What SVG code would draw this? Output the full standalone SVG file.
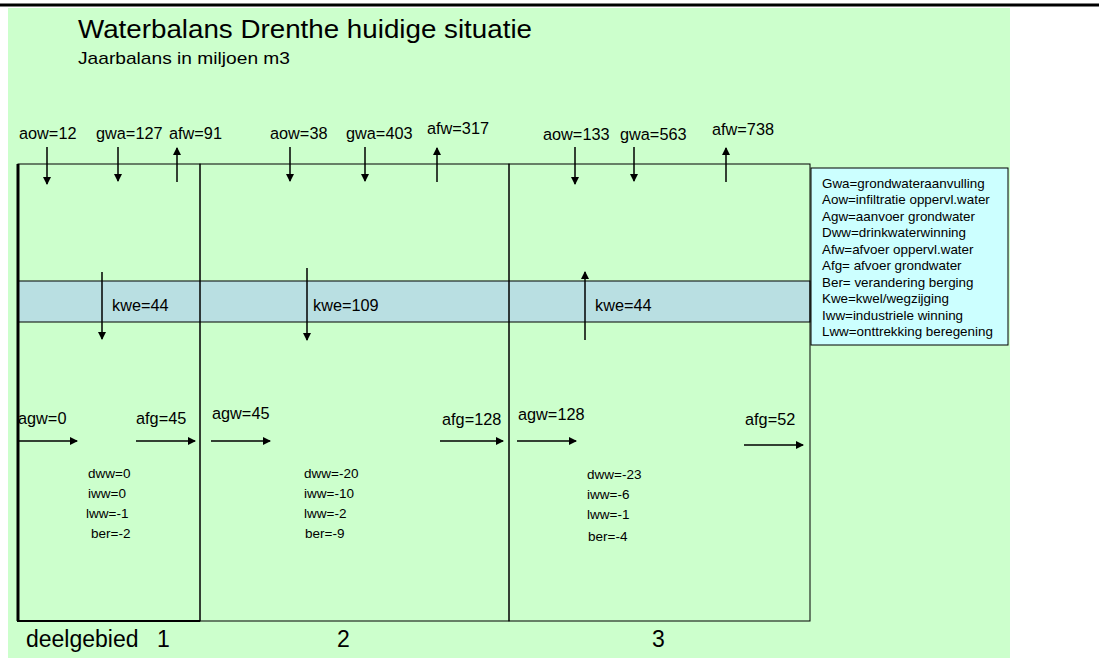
<svg xmlns="http://www.w3.org/2000/svg" width="1099" height="658" viewBox="0 0 1099 658">
<defs>
<marker id="ah" markerWidth="8" markerHeight="8" refX="7" refY="4" orient="auto" markerUnits="userSpaceOnUse"><path d="M0,0 L8,4 L0,8 z" fill="#000"/></marker>
<style>
text{font-family:"Liberation Sans",Arial,sans-serif;fill:#000}
.l{font-size:16.3px}
.m{font-size:13.5px}
.s{font-size:13.4px}
.d{font-size:23px}
.c line{stroke:#000;stroke-width:1.5;marker-end:url(#ah)}
.b{fill:none;stroke:#000;stroke-width:1}
</style>
</defs>
<rect x="0" y="0" width="1099" height="658" fill="#fff"/>
<rect x="8" y="8" width="1002" height="650" fill="#CCFFCC"/>
<line x1="0" y1="5" x2="1099" y2="5" stroke="#000" stroke-width="3"/>
<g id="title">
<text x="78" y="38" style="font-size:26px" textLength="454" lengthAdjust="spacingAndGlyphs">Waterbalans Drenthe huidige situatie</text>
<text x="78" y="64" style="font-size:17px" textLength="212" lengthAdjust="spacingAndGlyphs">Jaarbalans in miljoen m3</text>
</g>
<rect id="kwel-band" x="18" y="281" width="792" height="41" fill="#B9DFE2" stroke="#000" stroke-width="1"/>
<g id="deelgebied1">
<rect class="b" x="18" y="164" width="182" height="457"/>
<line x1="18" y1="164" x2="18" y2="621" stroke="#000" stroke-width="3"/>
<line x1="17" y1="621" x2="200" y2="621" stroke="#000" stroke-width="2"/>
<text class="m" x="88" y="478">dww=0</text>
<text class="m" x="88" y="498">iww=0</text>
<text class="m" x="86" y="518">lww=-1</text>
<text class="m" x="91" y="538">ber=-2</text>
</g>
<g id="deelgebied2">
<rect class="b" x="200" y="164" width="309" height="457"/>
<text class="m" x="304" y="478">dww=-20</text>
<text class="m" x="304" y="498">iww=-10</text>
<text class="m" x="304" y="518">lww=-2</text>
<text class="m" x="305" y="538">ber=-9</text>
</g>
<g id="deelgebied3">
<rect class="b" x="509" y="164" width="301" height="457"/>
<text class="m" x="587" y="479">dww=-23</text>
<text class="m" x="587" y="499">iww=-6</text>
<text class="m" x="587" y="519">lww=-1</text>
<text class="m" x="588" y="541">ber=-4</text>
</g>
<g id="legend">
<rect x="811" y="168" width="197" height="177" fill="#CCFFFF" stroke="#000" stroke-width="1"/>
<text class="s" x="822" y="188">Gwa=grondwateraanvulling</text>
<text class="s" x="822" y="204">Aow=infiltratie oppervl.water</text>
<text class="s" x="822" y="221">Agw=aanvoer grondwater</text>
<text class="s" x="822" y="237">Dww=drinkwaterwinning</text>
<text class="s" x="822" y="254">Afw=afvoer oppervl.water</text>
<text class="s" x="822" y="270">Afg= afvoer grondwater</text>
<text class="s" x="822" y="287">Ber= verandering berging</text>
<text class="s" x="822" y="303">Kwe=kwel/wegzijging</text>
<text class="s" x="822" y="320">Iww=industriele winning</text>
<text class="s" x="822" y="336">Lww=onttrekking beregening</text>
</g>
<g id="labels">
<text class="l" x="19" y="139">aow=12</text>
<text class="l" x="96" y="139">gwa=127</text>
<text class="l" x="169" y="139">afw=91</text>
<text class="l" x="270" y="139">aow=38</text>
<text class="l" x="346" y="139">gwa=403</text>
<text class="l" x="427" y="134">afw=317</text>
<text class="l" x="543" y="140">aow=133</text>
<text class="l" x="620" y="140">gwa=563</text>
<text class="l" x="712" y="135">afw=738</text>
<text class="l" x="112" y="311">kwe=44</text>
<text class="l" x="313" y="311">kwe=109</text>
<text class="l" x="595" y="311">kwe=44</text>
<text class="l" x="18" y="424">agw=0</text>
<text class="l" x="136" y="424">afg=45</text>
<text class="l" x="212" y="419">agw=45</text>
<text class="l" x="442" y="425">afg=128</text>
<text class="l" x="518" y="420">agw=128</text>
<text class="l" x="745" y="425">afg=52</text>
<text class="d" x="26" y="647">deelgebied</text>
<text class="d" x="157" y="647">1</text>
<text class="d" x="337" y="647">2</text>
<text class="d" x="652" y="647">3</text>
</g>
<g id="connectors" class="c">
<line x1="47" y1="147" x2="47" y2="184"/>
<line x1="118" y1="147" x2="118" y2="181"/>
<line x1="177" y1="182" x2="177" y2="148"/>
<line x1="290" y1="147" x2="290" y2="181"/>
<line x1="365" y1="147" x2="365" y2="181"/>
<line x1="437" y1="182" x2="437" y2="148"/>
<line x1="575" y1="147" x2="575" y2="184"/>
<line x1="634" y1="147" x2="634" y2="181"/>
<line x1="726" y1="182" x2="726" y2="148"/>
<line x1="102" y1="272" x2="102" y2="339"/>
<line x1="307" y1="268" x2="307" y2="340"/>
<line x1="585" y1="340" x2="585" y2="272"/>
<line x1="18" y1="441" x2="77" y2="441"/>
<line x1="136" y1="441" x2="195" y2="441"/>
<line x1="211" y1="441" x2="270" y2="441"/>
<line x1="440" y1="441" x2="503" y2="441"/>
<line x1="517" y1="441" x2="576" y2="441"/>
<line x1="744" y1="445" x2="803" y2="445"/>
</g>
</svg>
